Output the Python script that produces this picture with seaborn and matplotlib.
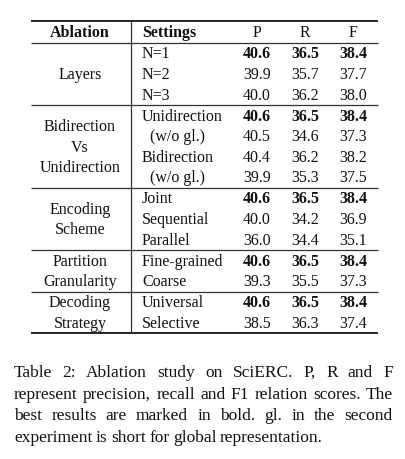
import matplotlib
matplotlib.use("Agg")
import matplotlib.pyplot as plt
import seaborn as sns


############
# Data
############
groups = [["Layers"],
          ["Bidirection", "Vs", "Unidirection"],
          ["Encoding", "Scheme"],
          ["Partition", "Granularity"],
          ["Decoding", "Strategy"]]
settings = [["N=1", "N=2", "N=3"],
            ["Unidirection", "(w/o gl.)", "Bidirection", "(w/o gl.)"],
            ["Joint", "Sequential", "Parallel"],
            ["Fine-grained", "Coarse"],
            ["Universal", "Selective"]]
p_vals = [[40.6, 39.9, 40.0], [40.6, 40.5, 40.4, 39.9], [40.6, 40.0, 36.0], [40.6, 39.3], [40.6, 38.5]]
r_vals = [[36.5, 35.7, 36.2], [36.5, 34.6, 36.2, 35.3], [36.5, 34.2, 34.4], [36.5, 35.5], [36.5, 36.3]]
f_vals = [[38.4, 37.7, 38.0], [38.4, 37.3, 38.2, 37.5], [38.4, 36.9, 35.1], [38.4, 37.3], [38.4, 37.4]]
header = ["Ablation", "Settings", "P", "R", "F"]
caption_lines = ["Table 2:  Ablation study on SciERC. P, R and F",
                 "represent precision, recall and F1 relation scores. The",
                 "best results are marked in bold.  gl.  in the second",
                 "experiment is short for global representation."]


#############
# Style
#############
sns.set_theme(style="white")
plt.rcParams['font.family'] = ['Liberation Serif', 'DejaVu Serif']
ink = '#111111'
fs = 11.5

fig = plt.figure(figsize=(4.06, 4.60), dpi=100)
ax = fig.add_axes([0, 0, 1, 1])
ax.set_xlim(0, 406)
ax.set_ylim(460, 0)
ax.axis('off')

x_left, x_right, x_vert = 31, 378, 131
x_group, x_set, x_cols = 80, 142, [257, 305, 353]
row_h = 20.6

# Header
y = 33
ax.text(x_group, y, header[0], ha='center', va='center', fontsize=fs, fontweight='bold', color=ink)
ax.text(x_set, y, header[1], ha='left', va='center', fontsize=fs, fontweight='bold', color=ink)
for xc, h in zip(x_cols, header[2:]):
    ax.text(xc, y, h, ha='center', va='center', fontsize=fs, color=ink)

ax.hlines(22, x_left, x_right, color=ink, lw=1.3)
ax.hlines(44, x_left, x_right, color='#333333', lw=0.9)

# Body
y_top = 44
for g, (labels, sets) in enumerate(zip(groups, settings)):
    n = len(sets)
    y0 = y_top + 10.5
    for i, s in enumerate(sets):
        yy = y0 + i * row_h
        xs = x_set + 8 if s.startswith('(') else x_set
        ax.text(xs, yy, s, ha='left', va='center', fontsize=fs, color=ink)
        bold = 'bold' if i == 0 else 'normal'
        for xc, vals in zip(x_cols, (p_vals, r_vals, f_vals)):
            ax.text(xc, yy, f"{vals[g][i]:.1f}", ha='center', va='center',
                    fontsize=fs, fontweight=bold, color=ink)
    y_mid = y0 + (n - 1) * row_h / 2
    m = len(labels)
    for j, lab in enumerate(labels):
        ax.text(x_group, y_mid + (j - (m - 1) / 2) * row_h, lab,
                ha='center', va='center', fontsize=fs, color=ink)
    y_top = y0 + (n - 1) * row_h + 10.5
    if g < len(groups) - 1:
        ax.hlines(y_top, x_left, x_right, color='#333333', lw=0.9)
    else:
        ax.hlines(y_top, x_left, x_right, color=ink, lw=1.3)

ax.vlines(x_vert, 22, y_top, color='#333333', lw=0.9)

# Caption (justified)
renderer = fig.canvas.get_renderer()
cap_x0, cap_x1 = 14, 393
cap_fs = 12.5
for k, line in enumerate(caption_lines):
    yy = 373 + k * 21.6
    words = line.split()
    texts = [ax.text(0, yy, w, ha='left', va='center', fontsize=cap_fs, color=ink) for w in words]
    widths = [t.get_window_extent(renderer).width for t in texts]
    if k < len(caption_lines) - 1:
        gap = (cap_x1 - cap_x0 - sum(widths)) / (len(words) - 1)
    else:
        gap = texts[0].get_window_extent(renderer).height * 0.22
    x = cap_x0
    for t, w in zip(texts, widths):
        t.set_x(x)
        x += w + gap

fig.savefig("out.png", dpi=100)
